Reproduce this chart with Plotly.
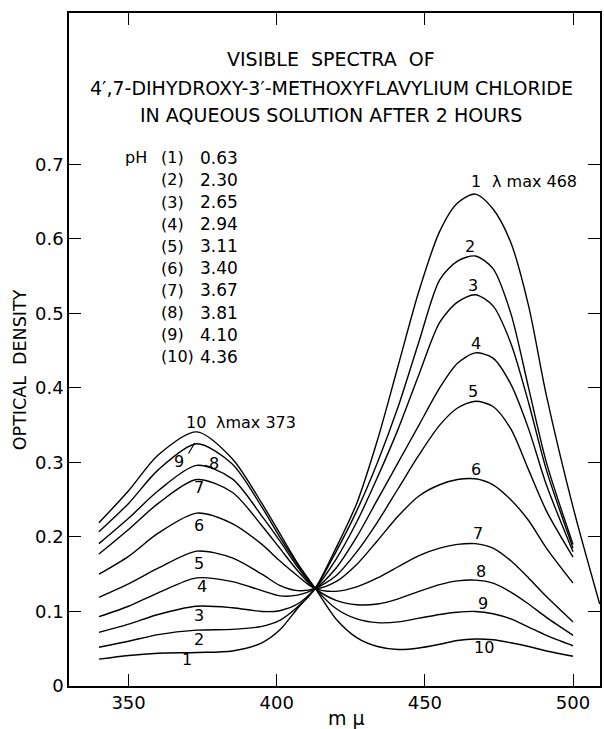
import plotly.graph_objects as go

# wavelength grid (m-mu)
wavelength = [340, 350, 360, 373, 385, 395, 401, 407, 413, 420, 427, 434, 441,
              448, 455, 461, 467, 473, 479, 485, 491, 500, 509]

# optical density for each curve (1..10)
od_1 = [0.036, 0.041, 0.044, 0.045, 0.047, 0.058, 0.075, 0.104, 0.131, 0.185, 0.245, 0.330, 0.430,
        0.530, 0.610, 0.648, 0.660, 0.640, 0.595, 0.510, 0.390, 0.240, 0.110]
od_2 = [0.052, 0.060, 0.069, 0.075, 0.076, 0.080, 0.088, 0.106, 0.131, 0.180, 0.235, 0.300, 0.375,
        0.462, 0.545, 0.570, 0.577, 0.560, 0.500, 0.400, 0.300, 0.190, None]
od_3 = [0.072, 0.083, 0.096, 0.107, 0.105, 0.100, 0.101, 0.110, 0.131, 0.170, 0.220, 0.280, 0.345,
        0.418, 0.488, 0.515, 0.525, 0.510, 0.460, 0.380, 0.290, 0.185, None]
od_4 = [0.093, 0.107, 0.125, 0.145, 0.140, 0.128, 0.121, 0.122, 0.131, 0.158, 0.200, 0.250, 0.300,
        0.350, 0.400, 0.433, 0.447, 0.440, 0.405, 0.345, 0.270, 0.180, None]
od_5 = [0.119, 0.137, 0.158, 0.181, 0.172, 0.150, 0.135, 0.128, 0.131, 0.148, 0.180, 0.220, 0.265,
        0.310, 0.350, 0.373, 0.382, 0.375, 0.345, 0.290, 0.235, 0.173, None]
od_6 = [0.150, 0.174, 0.205, 0.232, 0.218, 0.190, 0.168, 0.148, 0.131, 0.140, 0.163, 0.195, 0.228,
        0.255, 0.270, 0.277, 0.278, 0.270, 0.250, 0.222, 0.185, 0.138, None]
od_7 = [0.177, 0.210, 0.245, 0.277, 0.260, 0.215, 0.185, 0.155, 0.131, 0.127, 0.133, 0.145, 0.160,
        0.175, 0.185, 0.190, 0.191, 0.185, 0.168, 0.145, 0.120, 0.086, None]
od_8 = [0.191, 0.225, 0.262, 0.296, 0.278, 0.228, 0.195, 0.160, 0.131, 0.115, 0.109, 0.110, 0.117,
        0.127, 0.136, 0.141, 0.142, 0.138, 0.126, 0.110, 0.092, 0.068, None]
od_9 = [0.207, 0.245, 0.290, 0.325, 0.298, 0.240, 0.200, 0.163, 0.131, 0.104, 0.090, 0.085, 0.086,
        0.091, 0.096, 0.099, 0.100, 0.097, 0.090, 0.079, 0.068, 0.054, None]
od_10 = [0.219, 0.262, 0.310, 0.341, 0.305, 0.245, 0.205, 0.165, 0.131, 0.090, 0.065, 0.053, 0.049,
         0.051, 0.056, 0.061, 0.063, 0.062, 0.058, 0.053, 0.047, 0.040, None]

curve_ids = ["1", "2", "3", "4", "5", "6", "7", "8", "9", "10"]
ph_values = ["0.63", "2.30", "2.65", "2.94", "3.11", "3.40", "3.67", "3.81", "4.10", "4.36"]

# curve label positions (data units)
label_right_x = [467.3, 465.2, 466.1, 467.4, 466.4, 467.4, 467.8, 468.8, 469.5, 470.1]
label_right_y = [0.677, 0.590, 0.538, 0.459, 0.395, 0.290, 0.205, 0.153, 0.111, 0.051]
label_left_x = [369.8, 373.8, 373.8, 374.8, 373.8, 373.8, 373.8, 378.9, 367.1, 372.8]
label_left_y = [0.035, 0.063, 0.094, 0.133, 0.165, 0.215, 0.266, 0.298, 0.301, 0.354]

x_ticks = [350, 400, 450, 500]
y_ticks = [0, 0.1, 0.2, 0.3, 0.4, 0.5, 0.6, 0.7]
y_ticktext = ["0", "0.1", "0.2", "0.3", "0.4", "0.5", "0.6", "0.7"]

title_lines = ["VISIBLE  SPECTRA  OF",
               "4\u2032,7-DIHYDROXY-3\u2032-METHOXYFLAVYLIUM CHLORIDE",
               "IN AQUEOUS SOLUTION AFTER 2 HOURS"]

FONT = "DejaVu Sans"
series = [od_1, od_2, od_3, od_4, od_5, od_6, od_7, od_8, od_9, od_10]

fig = go.Figure()
for cid, od in zip(curve_ids, series):
    fig.add_trace(go.Scatter(
        x=wavelength, y=od, mode="lines", name=cid,
        line=dict(color="black", width=1.4, shape="spline", smoothing=0.8),
        showlegend=False, connectgaps=False, hoverinfo="skip"))

ann = []
# title
title_y = [0.9316, 0.8886, 0.8484]
for t, yy in zip(title_lines, title_y):
    ann.append(dict(text=t, x=0.494, y=yy, xref="paper", yref="paper",
                    showarrow=False, xanchor="center", yanchor="middle",
                    font=dict(size=19, family=FONT, color="black")))

# pH legend
LEG = 16
ann.append(dict(text="pH", x=352.6, y=(686 - 158) / 745, xref="x", yref="y", showarrow=False,
                xanchor="center", yanchor="middle", font=dict(size=LEG, family=FONT, color="black")))
for i, (cid, ph) in enumerate(zip(curve_ids, ph_values)):
    yy = (686 - (158 + 22.1 * i)) / 745
    ann.append(dict(text="(" + cid + ")", x=360.4, y=yy, xref="x", yref="y", showarrow=False,
                    xanchor="left", yanchor="middle", font=dict(size=LEG, family=FONT, color="black")))
    ann.append(dict(text=ph, x=373.6, y=yy, xref="x", yref="y", showarrow=False,
                    xanchor="left", yanchor="middle", font=dict(size=LEG + 1, family=FONT, color="black")))

LBL = 16
# right-hand curve labels
for cid, xx, yy in zip(curve_ids, label_right_x, label_right_y):
    ann.append(dict(text=cid, x=xx, y=yy, xref="x", yref="y", showarrow=False,
                    xanchor="center", yanchor="middle", font=dict(size=LBL, family=FONT, color="black")))
ann.append(dict(text="\u03bb max 468", x=472.0, y=0.677, xref="x", yref="y", showarrow=False,
                xanchor="left", yanchor="middle", font=dict(size=LBL, family=FONT, color="black")))

# left-hand curve labels
for cid, xx, yy in zip(curve_ids, label_left_x, label_left_y):
    ann.append(dict(text=cid, x=xx, y=yy, xref="x", yref="y", showarrow=False,
                    xanchor="center", yanchor="middle", font=dict(size=LBL, family=FONT, color="black")))
ann.append(dict(text="\u03bbmax 373", x=379.0, y=0.354, xref="x", yref="y", showarrow=False,
                xanchor="left", yanchor="middle", font=dict(size=LBL, family=FONT, color="black")))
# pointer ticks for 9 and 8
ann.append(dict(text="", x=372.3, y=0.326, xref="x", yref="y", showarrow=True, arrowhead=0,
                arrowwidth=1.2, arrowcolor="black", ax=-7, ay=12, standoff=0))
ann.append(dict(text="", x=375.8, y=0.296, xref="x", yref="y", showarrow=True, arrowhead=0,
                arrowwidth=1.2, arrowcolor="black", ax=7, ay=2, standoff=0))

# axis titles
ann.append(dict(text="OPTICAL  DENSITY", x=-0.092, y=0.4695, xref="paper", yref="paper",
                showarrow=False, textangle=-90, xanchor="center", yanchor="middle",
                font=dict(size=17.5, family=FONT, color="black")))
ann.append(dict(text="m \u03bc", x=0.522, y=-0.0475, xref="paper", yref="paper",
                showarrow=False, xanchor="center", yanchor="middle",
                font=dict(size=19, family=FONT, color="black")))

fig.update_layout(
    width=604, height=729,
    margin=dict(l=69, r=2, t=13, b=43),
    paper_bgcolor="white", plot_bgcolor="white",
    annotations=ann,
    font=dict(family=FONT, color="black"),
    hovermode=False,
)
fig.update_xaxes(range=[329.9, 509.1], tickvals=x_ticks, ticks="inside", ticklen=12, tickwidth=1.3,
                 tickcolor="black", showline=True, linecolor="black", linewidth=1.5, mirror="ticks",
                 showgrid=False, zeroline=False, tickfont=dict(size=18, family=FONT, color="black"))
fig.update_yaxes(range=[0, 0.903], tickvals=y_ticks, ticktext=y_ticktext, ticks="inside", ticklen=12,
                 tickwidth=1.3, tickcolor="black", showline=True, linecolor="black", linewidth=1.5,
                 mirror="ticks", showgrid=False, zeroline=False,
                 tickfont=dict(size=18, family=FONT, color="black"))

fig.write_html("out.html", config={"displayModeBar": False},
               post_script="document.body.style.margin='0px';")
